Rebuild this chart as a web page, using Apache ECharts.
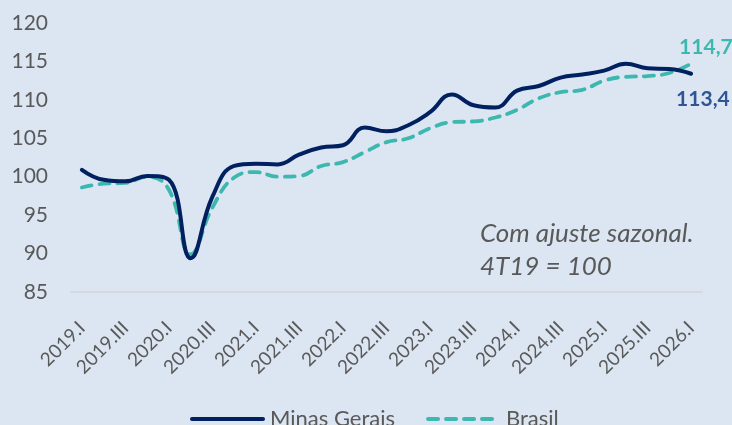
<!DOCTYPE html>
<html>
<head>
<meta charset="utf-8">
<script src="https://cdn.jsdelivr.net/npm/echarts@6/dist/echarts.min.js"></script>
<style>
html,body{margin:0;padding:0;background:#DCE6F2;}
#c{width:732px;height:425px;}
</style>
</head>
<body>
<div id="c"></div>
<script>
const categories = [
  "2019.I","2019.II","2019.III","2019.IV",
  "2020.I","2020.II","2020.III","2020.IV",
  "2021.I","2021.II","2021.III","2021.IV",
  "2022.I","2022.II","2022.III","2022.IV",
  "2023.I","2023.II","2023.III","2023.IV",
  "2024.I","2024.II","2024.III","2024.IV",
  "2025.I","2025.II","2025.III","2025.IV",
  "2026.I"
];
const minasGerais = [
  100.9, 99.6, 99.4, 100.1,
  99.6, 89.4, 97.4, 101.4,
  101.7, 101.6, 102.9, 103.8,
  104.1, 106.4, 105.9, 106.7,
  108.4, 110.7, 109.3, 109.0,
  111.2, 111.8, 112.9, 113.3,
  113.8, 114.7, 114.1, 114.0,
  113.4
];
const brasil = [
  98.6, 99.1, 99.2, 100.0,
  98.3, 89.9, 96.0, 99.9,
  100.6, 100.0, 100.1, 101.4,
  101.9, 103.2, 104.5, 105.0,
  106.3, 107.1, 107.2, 107.7,
  108.7, 110.2, 111.0, 111.3,
  112.5, 113.0, 113.1, 113.5,
  114.7
];
const yTicks = { min: 85, max: 120, interval: 5 };
const seriesNames = ["Minas Gerais", "Brasil"];
const annotation = "Com ajuste sazonal.\n4T19 = 100";

const FONT = "Lato";
const GRAY = "#595959";
const lastIdx = categories.length - 1;
const fmt = v => String(v).replace(".", ",");

const chart = echarts.init(document.getElementById("c"), null, { renderer: "canvas" });
chart.setOption({
  backgroundColor: "#DCE6F2",
  animation: false,
  grid: { left: 71, right: 30, top: 23, bottom: 133, containLabel: false },
  xAxis: {
    type: "category",
    data: categories,
    boundaryGap: true,
    axisLine: { show: true, lineStyle: { color: "#D4D4D4", width: 1.5 } },
    axisTick: { show: false },
    axisLabel: {
      interval: 1, rotate: 45, margin: 33,
      color: GRAY, fontFamily: FONT, fontSize: 19
    },
    splitLine: { show: false }
  },
  yAxis: {
    type: "value",
    min: yTicks.min, max: yTicks.max, interval: yTicks.interval,
    axisLine: { show: false },
    axisTick: { show: false },
    splitLine: { show: false },
    axisLabel: { margin: 23, color: GRAY, fontFamily: FONT, fontSize: 21 }
  },
  legend: {
    left: 185, top: 403,
    itemWidth: 71, itemHeight: 20, itemGap: 31,
    itemStyle: { color: "rgba(0,0,0,0)", borderColor: "rgba(0,0,0,0)", borderWidth: 0 },
    lineStyle: { width: 4, cap: "round" },
    textStyle: { color: GRAY, fontFamily: FONT, fontSize: 22, padding: [0,0,0,2] },
    data: seriesNames
  },
  graphic: [{
    type: "text", left: 480, top: 217,
    style: {
      text: annotation, fill: GRAY,
      font: "italic 26px " + FONT, lineHeight: 33
    }
  }],
  series: [
    {
      name: seriesNames[0], type: "line", data: minasGerais,
      smooth: 0.45, symbol: "none", z: 3,
      lineStyle: { color: "#002060", width: 4, cap: "round" },
      itemStyle: { color: "#002060" },
      endLabel: {
        show: true, offset: [-23, 26],
        color: "#2F5597", fontFamily: FONT, fontWeight: "bold", fontSize: 21,
        formatter: () => fmt(minasGerais[lastIdx])
      }
    },
    {
      name: seriesNames[1], type: "line", data: brasil,
      smooth: 0.45, symbol: "none", z: 2,
      lineStyle: { color: "#3DB8AF", width: 3.8, type: [10, 8], cap: "round" },
      itemStyle: { color: "#3DB8AF" },
      endLabel: {
        show: true, offset: [-20, -16],
        color: "#3DB8AF", fontFamily: FONT, fontWeight: "bold", fontSize: 21,
        formatter: () => fmt(brasil[lastIdx])
      }
    }
  ]
});
</script>
</body>
</html>
